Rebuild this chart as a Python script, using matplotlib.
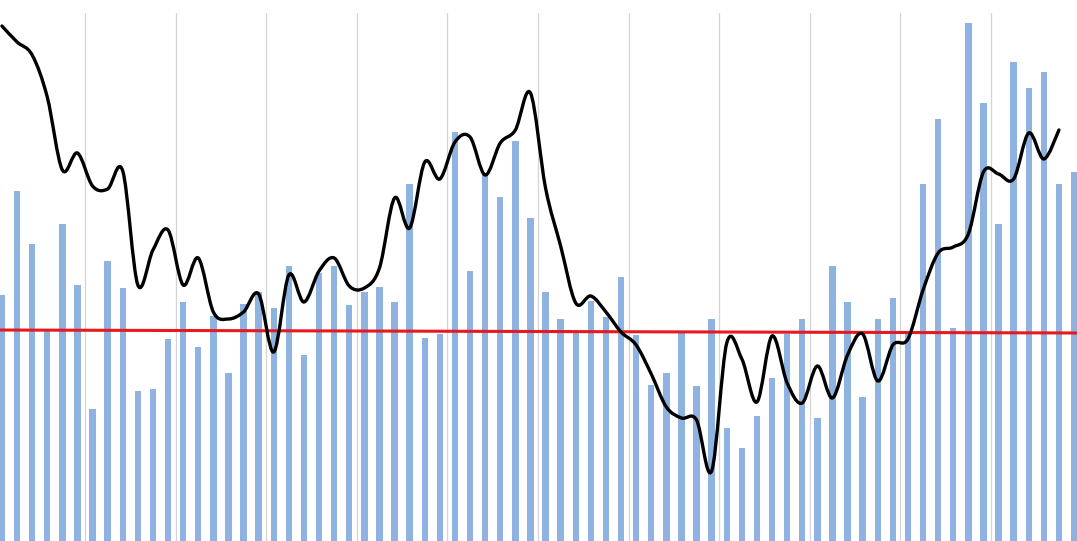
import matplotlib
matplotlib.use("Agg")
import matplotlib.pyplot as plt
from matplotlib.path import Path
from matplotlib.patches import PathPatch
import numpy as np

# ---- data ----
bar_values = [81.0, 101.8, 91.2, 74.0, 95.2, 83.0, 58.2, 87.8, 82.4, 61.8,
              62.2, 72.2, 79.6, 70.6, 76.8, 65.4, 79.2, 81.6, 78.4, 86.8,
              69.0, 85.4, 86.8, 79.0, 81.6, 82.6, 79.6, 103.2, 72.4, 73.2,
              113.6, 85.8, 105.0, 100.6, 111.8, 96.4, 81.6, 76.2, 73.4, 79.8,
              76.6, 84.6, 73.0, 63.0, 65.4, 73.4, 62.8, 76.2, 54.4, 50.4,
              56.8, 64.4, 73.2, 76.2, 56.4, 86.8, 79.6, 60.6, 76.2, 80.4,
              73.8, 103.2, 116.2, 74.4, 135.4, 119.4, 95.2, 127.6, 122.4, 125.6,
              103.2, 105.6]

line_values = [134.8, 131.6, 129.0, 120.6, 106.0, 109.4, 102.8, 102.2, 105.8, 83.0,
               90.0, 94.0, 83.0, 88.4, 77.6, 76.2, 77.6, 81.2, 69.6, 85.0,
               79.6, 85.8, 88.4, 82.8, 82.4, 86.4, 100.4, 94.4, 107.6, 104.2,
               111.6, 112.6, 105.0, 111.4, 114.0, 121.4, 102.4, 90.8, 79.4, 80.8,
               77.6, 73.6, 71.0, 65.2, 58.6, 56.4, 56.0, 45.8, 71.4, 68.2,
               59.6, 72.8, 63.4, 59.4, 66.8, 60.4, 69.0, 73.2, 63.8, 71.0,
               72.2, 82.0, 89.4, 90.6, 93.2, 105.6, 105.2, 104.2, 113.4, 108.2,
               114.0]

red_line_start = 74.0
red_line_end = 73.4
grid_every = 6

# ---- figure ----
W, H = 1077, 541
fig = plt.figure(figsize=(W / 100, H / 100), dpi=100)
top_px = 13
ax = fig.add_axes([0, 0, 1, 1 - top_px / H])

n = len(bar_values)
x = np.arange(n)
ax.bar(x, bar_values, width=0.42, color="#8fb3e0", zorder=2)

# vertical gridlines at category boundaries
for g in np.arange(grid_every - 0.5, n, grid_every):
    ax.axvline(g, color="#d4d4d4", lw=0.9, zorder=1)

# red horizontal reference line
ax.plot([-0.5, n - 0.5], [red_line_start, red_line_end], color="#e5191f", lw=2.2, zorder=3)

# smoothed black line (Catmull-Rom style Bezier through the data points)
lx = np.arange(len(line_values), dtype=float)
ly = np.asarray(line_values, dtype=float)
pts = np.column_stack([lx, ly])
verts = [tuple(pts[0])]
codes = [Path.MOVETO]
m = len(pts)
for i in range(m - 1):
    p0 = pts[max(i - 1, 0)]
    p1 = pts[i]
    p2 = pts[i + 1]
    p3 = pts[min(i + 2, m - 1)]
    c1 = p1 + (p2 - p0) / 6.0
    c2 = p2 - (p3 - p1) / 6.0
    verts += [tuple(c1), tuple(c2), tuple(p2)]
    codes += [Path.CURVE4] * 3
ax.add_patch(PathPatch(Path(verts, codes), facecolor="none", edgecolor="black",
                       lw=2.4, capstyle="round", joinstyle="round", zorder=4))

# pixel-matched limits
sp = 15.1
x0 = 1.95
ax.set_xlim((0 - x0) / sp, (W - x0) / sp)
ax.set_ylim((700 - H) / 5.0, (700 - top_px) / 5.0)
ax.axis("off")

fig.savefig("out.png", dpi=100, facecolor="white")
